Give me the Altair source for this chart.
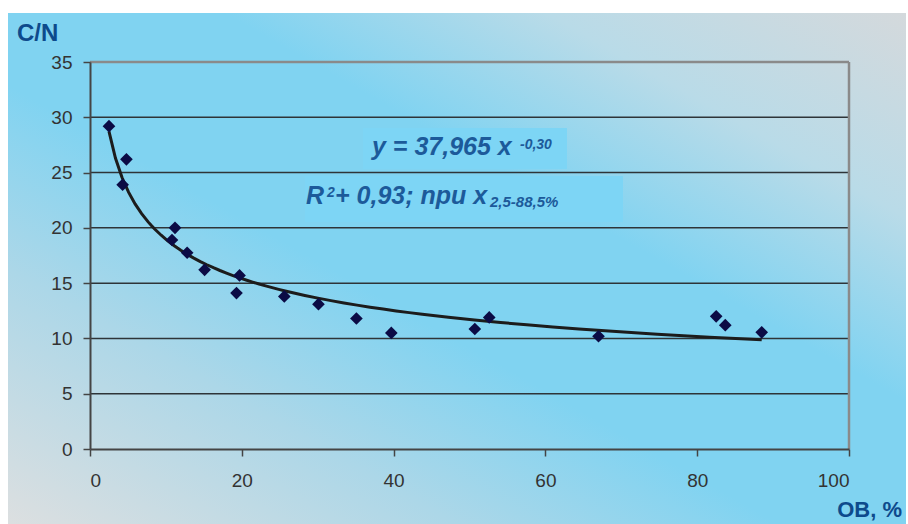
import altair as alt
import pandas as pd

# ---- data ----
om_pct = [2.5, 4.8, 4.3, 11.2, 10.8, 12.8, 15.1, 19.7, 19.3, 25.6, 30.1, 35.1,
          39.7, 50.7, 52.6, 67.0, 82.5, 83.7, 88.5]
cn_ratio = [29.2, 26.2, 23.9, 20.0, 18.9, 17.75, 16.2, 15.7, 14.1, 13.8, 13.1, 11.8,
            10.5, 10.85, 11.9, 10.2, 12.0, 11.2, 10.55]
x_ticks = [0, 20, 40, 60, 80, 100]
y_ticks = [0, 5, 10, 15, 20, 25, 30, 35]
fit_range = [2.5, 88.5]
eq_line1 = "y = 37,965 x"
eq_line1_sup = "-0,30"
eq_line2_r = "R"
eq_line2_sup = "2"
eq_line2 = "+ 0,93; npu x"
eq_line2_sub = "2,5-88,5%"
y_title = "C/N"
x_title = "OB, %"

df = pd.DataFrame({"om": om_pct, "cn": cn_ratio})
one = pd.DataFrame({"a": [0]})

W, H = 759, 387
PAD = {"left": 90, "top": 62, "right": 59, "bottom": 75}

xs = alt.Scale(domain=[x_ticks[0], x_ticks[-1]], nice=False)
ys = alt.Scale(domain=[y_ticks[0], y_ticks[-1]], nice=False)

FONT = "Liberation Sans"
TXT = "#1c5a9a"

bg = alt.Chart(one).mark_rect(
    fill=alt.Gradient(
        gradient="linear",
        stops=[
            alt.GradientStop(offset=0, color="#dcdfe0"),
            alt.GradientStop(offset=0.25, color="#acd7e8"),
            alt.GradientStop(offset=0.43, color="#80d3f1"),
            alt.GradientStop(offset=0.62, color="#80d3f1"),
            alt.GradientStop(offset=0.8, color="#b9dbe8"),
            alt.GradientStop(offset=1, color="#d4d9dc"),
        ],
        x1=0, y1=1, x2=1, y2=0,
    )
).encode(x=alt.value(-82), x2=alt.value(816), y=alt.value(-49), y2=alt.value(462))

grid = alt.Chart(pd.DataFrame({"g": y_ticks[1:]})).mark_rule().encode(
    y=alt.Y("g:Q", scale=ys),
    color=alt.condition("datum.g == 35", alt.value("#8a8a8a"), alt.value("#2e3438")),
    strokeWidth=alt.condition("datum.g == 35", alt.value(2.5), alt.value(1.5)),
)

right_border = alt.Chart(pd.DataFrame({"r": [x_ticks[-1]]})).mark_rule(
    color="#8a8a8a", strokeWidth=2.5
).encode(x=alt.X("r:Q", scale=xs))

curve = alt.Chart(df).transform_regression(
    "om", "cn", method="pow", extent=fit_range
).mark_line(color="#1c1c1c", strokeWidth=3).encode(
    x=alt.X("om:Q", scale=xs,
            axis=alt.Axis(values=x_ticks, title=None, grid=False, zindex=1,
                          labelPadding=15)),
    y=alt.Y("cn:Q", scale=ys,
            axis=alt.Axis(values=y_ticks, title=None, grid=False, zindex=1,
                          labelPadding=11)),
)

points = alt.Chart(df).mark_point(
    shape="diamond", filled=True, size=160, color="#0b0b45", opacity=1
).encode(x=alt.X("om:Q", scale=xs), y=alt.Y("cn:Q", scale=ys))

box1 = alt.Chart(one).mark_rect(color="#7dd5f5").encode(
    x=alt.value(273), x2=alt.value(477), y=alt.value(66), y2=alt.value(107))
box2 = alt.Chart(one).mark_rect(color="#7dd5f5").encode(
    x=alt.value(215), x2=alt.value(533), y=alt.value(114), y2=alt.value(160))


def txt(s, x, y, size, align="left", italic=True, color=TXT, font=FONT):
    kw = dict(text=s, align=align, baseline="alphabetic", font=font,
              fontSize=size, fontWeight="bold", color=color)
    if italic:
        kw["fontStyle"] = "italic"
    return alt.Chart(one).mark_text(**kw).encode(x=alt.value(x), y=alt.value(y))


t1 = txt(eq_line1, 282, 93, 25)
t1s = txt(eq_line1_sup, 430, 87, 14)
t2r = txt(eq_line2_r, 216, 142, 25)
t2s = txt(eq_line2_sup, 237, 135, 14)
t2 = txt(eq_line2, 245, 142, 25)
t2b = txt(eq_line2_sub, 400, 145, 15)

ytitle = txt(y_title, -73, -21, 24, italic=False, color="#0d4a8c")
xtitle = txt(x_title, 812, 455, 22, align="right", italic=False, color="#0d4a8c")

chart = alt.layer(
    bg, grid, right_border, curve, points, box1, box2,
    t1, t1s, t2r, t2s, t2, t2b, ytitle, xtitle
).properties(
    width=W, height=H, autosize=alt.AutoSizeParams(type="none"), padding=PAD,
    background="white"
).configure_view(stroke=None).configure_axis(
    labelFont=FONT, labelFontSize=19, labelColor="#333333",
    domainColor="#444444", domainWidth=2, tickColor="#444444",
    tickSize=7, tickWidth=1.5
)

chart.save("out.html", embed_options={"renderer": "svg", "actions": False})
